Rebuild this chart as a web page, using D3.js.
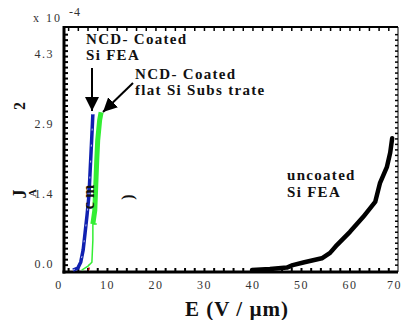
<!DOCTYPE html>
<html>
<head>
<meta charset="utf-8">
<script src="https://cdn.jsdelivr.net/npm/d3@7"></script>
<style>
body { margin: 0; background: #fff; }
svg text { font-family: "Liberation Serif", "Times New Roman", Tinos, "DejaVu Serif", serif; }
</style>
</head>
<body>
<svg id="chart" width="404" height="320"></svg>
<script>
// x tick labels, y tick labels (in units of 1e-4 A/cm2)
var xTickVals = [0, 10, 20, 30, 40, 50, 60, 70];
var yTickVals = [0, 10 / 7, 20 / 7, 30 / 7];

// NCD-coated Si FEA (blue)
var blueE = [3.0, 4.0, 4.6, 5.1, 5.5, 5.9, 6.3, 6.5, 6.7, 6.9, 7.1];
var blueJ = [0.0, 0.04, 0.16, 0.41, 0.76, 1.12, 1.53, 1.94, 2.35, 2.76, 3.18];

// NCD-coated flat Si substrate (green), lower thin part and upper thick part
var greenLowE = [4.8, 6.1, 6.9, 7.1, 7.1, 7.9];
var greenLowJ = [0.0, 0.08, 0.16, 0.61, 0.94, 0.94];
var greenHighE = [7.1, 7.5, 7.7, 7.9, 8.1, 8.5, 8.8];
var greenHighJ = [0.94, 1.22, 1.73, 2.24, 2.65, 3.06, 3.22];

// small red trace near the origin
var redE = [6.1, 6.3, 6.3];
var redJ = [0.0, 0.02, 0.12];

// uncoated Si FEA (black)
var blackE = [39.9, 43.6, 47.1, 48.3, 50.7, 54.3, 56.0, 57.4, 60.1, 62.8, 65.3, 66.3, 67.7, 68.4, 68.8];
var blackJ = [0.0, 0.02, 0.05, 0.1, 0.16, 0.24, 0.35, 0.51, 0.78, 1.08, 1.39, 1.78, 2.1, 2.4, 2.69];

var svg = d3.select("#chart");
var L = 64, R = 398, T = 27, B = 272;
var serif = "'Liberation Serif', 'Times New Roman', Tinos, 'DejaVu Serif', serif";

var x = d3.scaleLinear().domain([1.15, 70]).range([L, R]);
var y = d3.scaleLinear().domain([-0.04, 4.96]).range([B, T]);

function pts(es, js) {
	return es.map(function(e, i) { return [e, js[i]]; });
}
var lineGen = d3.line()
	.x(function(d) { return x(d[0]); })
	.y(function(d) { return y(d[1]); });

//Frame
svg.append("line").attr("x1", L).attr("x2", R).attr("y1", T).attr("y2", T)
	.attr("stroke", "#000").attr("stroke-width", 2);
svg.append("line").attr("x1", R).attr("x2", R).attr("y1", T).attr("y2", B)
	.attr("stroke", "#000").attr("stroke-width", 1);

//Minor ticks
var gB = svg.append("g").attr("transform", "translate(0," + B + ")")
	.call(d3.axisBottom(x).tickValues(d3.range(2, 70, 2)).tickSize(-4).tickFormat(""));
var gT = svg.append("g").attr("transform", "translate(0," + T + ")")
	.call(d3.axisTop(x).tickValues(d3.range(2, 70, 2)).tickSize(-4).tickFormat(""));
var gL = svg.append("g").attr("transform", "translate(" + L + ",0)")
	.call(d3.axisLeft(y).tickValues(d3.range(0.11, 4.9, 0.112)).tickSize(-4).tickFormat(""));
var gR = svg.append("g").attr("transform", "translate(" + R + ",0)")
	.call(d3.axisRight(y).tickValues(d3.range(0.11, 4.9, 0.112)).tickSize(-3).tickFormat(""));
[gB, gT, gL, gR].forEach(function(g) {
	g.select(".domain").remove();
	g.selectAll(".tick line").attr("stroke", "#000").attr("stroke-width", 2);
});
gR.selectAll(".tick line").attr("stroke-width", 1.5);
gT.selectAll(".tick line").attr("stroke-width", 1.5);

//Tick labels
var xLab = svg.append("g").attr("transform", "translate(0," + B + ")")
	.call(d3.axisBottom(x).tickValues(xTickVals).tickSize(0).tickPadding(8).tickFormat(d3.format("d")));
xLab.attr("font-family", serif);
xLab.select(".domain").remove();
xLab.selectAll("text").attr("font-size", 12).attr("letter-spacing", 1.5)
	.attr("fill", "#333")
	.attr("dx", function(d) { return d === 70 ? -4 : 0; });

var yLab = svg.append("g").attr("transform", "translate(" + (L - 4) + ",0)")
	.call(d3.axisLeft(y).tickValues(yTickVals).tickSize(0).tickPadding(6).tickFormat(d3.format(".1f")));
yLab.attr("font-family", serif);
yLab.select(".domain").remove();
yLab.selectAll("text").attr("font-size", 12).attr("letter-spacing", 1.5)
	.attr("fill", "#333").attr("dy", "-0.2em");

//Main axis lines, thick left and bottom
svg.append("line").attr("x1", L).attr("x2", L).attr("y1", T - 1).attr("y2", B + 1.5)
	.attr("stroke", "#000").attr("stroke-width", 3);
svg.append("line").attr("x1", L - 1.5).attr("x2", R).attr("y1", B).attr("y2", B)
	.attr("stroke", "#000").attr("stroke-width", 3);

//Data
svg.append("path").attr("d", lineGen(pts(redE, redJ)))
	.attr("fill", "none").attr("stroke", "#c00000").attr("stroke-width", 1.5)
	.attr("stroke-dasharray", "3,3");
svg.append("path").attr("d", lineGen(pts(greenLowE, greenLowJ)))
	.attr("fill", "none").attr("stroke", "#33ee33").attr("stroke-width", 1.5);
svg.append("path").attr("d", lineGen(pts(greenHighE, greenHighJ)))
	.attr("fill", "none").attr("stroke", "#33ee33").attr("stroke-width", 5);
svg.append("path").attr("d", lineGen(pts(blueE, blueJ)))
	.attr("fill", "none").attr("stroke", "#1020b0").attr("stroke-width", 3.5);
svg.append("path").attr("d", lineGen(pts(blueE, blueJ)))
	.attr("fill", "none").attr("stroke", "#fff").attr("stroke-width", 0.7)
	.attr("stroke-dasharray", "2,14");
svg.append("path").attr("d", lineGen(pts(blackE, blackJ)))
	.attr("fill", "none").attr("stroke", "#000").attr("stroke-width", 4.5)
	.attr("stroke-linejoin", "round").attr("stroke-linecap", "round");

//Arrows
svg.append("defs").append("marker")
	.attr("id", "head").attr("viewBox", "0 0 10 10").attr("refX", 10).attr("refY", 5)
	.attr("markerWidth", 7).attr("markerHeight", 7).attr("markerUnits", "strokeWidth")
	.attr("orient", "auto")
	.append("path").attr("d", "M0,0L10,5L0,10Z").attr("fill", "#000");
svg.append("line").attr("x1", 92).attr("y1", 68).attr("x2", 92).attr("y2", 111)
	.attr("stroke", "#000").attr("stroke-width", 2).attr("marker-end", "url(#head)");
svg.append("line").attr("x1", 133).attr("y1", 83).attr("x2", 103).attr("y2", 112)
	.attr("stroke", "#000").attr("stroke-width", 2).attr("marker-end", "url(#head)");

//Annotations
function note(tx, ty, s) {
	svg.append("text").attr("x", tx).attr("y", ty).text(s)
		.attr("font-family", serif)
		.attr("font-size", 15).attr("font-weight", "bold").attr("letter-spacing", 1.3)
		.attr("fill", "#111");
}
note(86, 44, "NCD- Coated");
note(86, 60, "Si FEA");
note(135, 79, "NCD- Coated");
note(135, 95, "flat Si Subs trate");
note(287, 180, "uncoated");
note(287, 197, "Si FEA");

//Exponent
svg.append("text").attr("x", 33).attr("y", 22).text("x 10").attr("font-family", serif)
	.attr("font-size", 12).attr("letter-spacing", 2).attr("fill", "#333");
svg.append("text").attr("x", 69).attr("y", 16).text("-4").attr("font-family", serif)
	.attr("font-size", 12).attr("letter-spacing", 1).attr("fill", "#333");

//Axis titles
svg.append("text").attr("x", 237).attr("y", 316).attr("text-anchor", "middle")
	.text("E (V / \u00b5m)").attr("font-family", serif)
	.attr("font-size", 21).attr("font-weight", "bold")
	.attr("letter-spacing", 1).attr("fill", "#111");

function rotText(tx, ty, s, sz) {
	svg.append("text").attr("transform", "translate(" + tx + "," + ty + ") rotate(-90)")
		.attr("text-anchor", "middle").text(s).attr("font-family", serif)
		.attr("font-size", sz).attr("font-weight", "bold").attr("fill", "#111");
}
rotText(26, 194, "J", 18);
rotText(36, 193, "A", 11);
rotText(94, 197, "c m", 16);
rotText(133, 197, ")", 16);
rotText(25, 106, "2", 16);
</script>
</body>
</html>
